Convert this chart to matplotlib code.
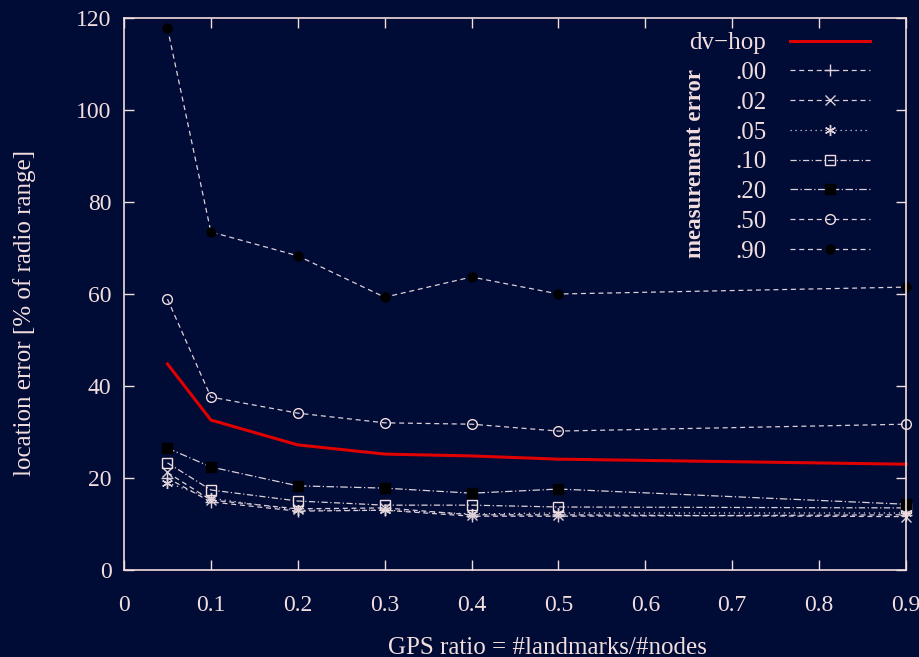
import numpy as np
import matplotlib.pyplot as plt

bg = '#000b36'
fg = '#f2dede'
lc = '#ddd0d8'

ratio = [0.05, 0.1, 0.2, 0.3, 0.4, 0.5, 0.9]
dvhop = [44.8, 32.6, 27.2, 25.2, 24.8, 24.1, 23.0]
err_00 = [20.0, 14.8, 12.8, 13.0, 11.7, 11.7, 12.0]
err_02 = [21.2, 15.2, 13.3, 13.5, 12.0, 12.0, 11.6]
err_05 = [19.0, 15.6, 13.0, 13.0, 12.2, 12.4, 12.4]
err_10 = [23.3, 17.4, 15.0, 14.1, 14.1, 13.7, 13.5]
err_20 = [26.5, 22.4, 18.3, 17.8, 16.7, 17.6, 14.3]
err_50 = [58.9, 37.6, 34.1, 32.0, 31.7, 30.2, 31.7]
err_90 = [117.8, 73.5, 68.3, 59.3, 63.7, 60.0, 61.5]

xticks = [0, 0.1, 0.2, 0.3, 0.4, 0.5, 0.6, 0.7, 0.8, 0.9]
xticklabels = ['0', '0.1', '0.2', '0.3', '0.4', '0.5', '0.6', '0.7', '0.8', '0.9']
yticks = [0, 20, 40, 60, 80, 100, 120]

plt.rcParams['font.family'] = ['Liberation Serif', 'DejaVu Serif']
plt.rcParams['font.size'] = 17

fig = plt.figure(figsize=(9.2, 6.57), dpi=100, facecolor=bg)
ax = fig.add_axes([0.1348, 0.1324, 0.85, 0.8402], facecolor=bg)

ax.plot(ratio, dvhop, color='#e00000', lw=2.2, label='dv\u2212hop')
ax.plot(ratio, err_00, color=lc, lw=0.9, ls=(0, (4, 3)), marker='+', ms=8, mew=1, label='.00')
ax.plot(ratio, err_02, color=lc, lw=0.9, ls=(0, (4, 3)), marker='x', ms=7, mew=1, label='.02')
ax.plot(ratio, err_05, color=lc, lw=0.9, ls=(0, (1, 3)), marker=(6, 2, 0), ms=8, mew=1, label='.05')
ax.plot(ratio, err_10, color=lc, lw=0.9, ls=(0, (5, 2, 1, 2)), marker='s', ms=7, mew=1,
        mfc='none', mec=fg, label='.10')
ax.plot(ratio, err_20, color=lc, lw=0.9, ls=(0, (6, 2, 1, 2)), marker='s', ms=7,
        mfc='black', mec='black', label='.20')
ax.plot(ratio, err_50, color=lc, lw=0.9, ls=(0, (4, 3)), marker='o', ms=7, mew=1,
        mfc='none', mec=fg, label='.50')
ax.plot(ratio, err_90, color=lc, lw=0.9, ls=(0, (4, 3)), marker='o', ms=6.5,
        mfc='black', mec='black', label='.90')
for ln in ax.get_lines():
    ln.set_clip_on(False)

ax.set_xlim(0, 0.9)
ax.set_ylim(0, 120)
ax.set_xticks(xticks)
ax.set_xticklabels(xticklabels)
ax.set_yticks(yticks)
ax.tick_params(direction='in', length=7, width=1, colors=fg, top=True, right=True)
ax.tick_params(axis='x', pad=18)
ax.tick_params(axis='y', pad=9)
for s in ax.spines.values():
    s.set_color(fg)
    s.set_linewidth(1.2)

ax.set_xlabel('GPS ratio = #landmarks/#nodes', color=fg, fontsize=18, labelpad=15)
ax.set_ylabel('location error [% of radio range]', color=fg, fontsize=18, labelpad=29)
ax.xaxis.label.set_x(0.541)
ax.yaxis.label.set_y(0.466)

leg = ax.legend(loc='upper right', bbox_to_anchor=(0.954, 0.975), frameon=False,
                markerfirst=False, handlelength=3.2, handletextpad=0.95, fontsize=18,
                labelspacing=0.29, borderpad=0, borderaxespad=0, numpoints=1)
for t in leg.get_texts():
    t.set_color(fg)

ax.text(0.731, 0.736, 'measurement error', transform=ax.transAxes, rotation=90,
        ha='center', va='center', color=fg, fontweight='bold', fontsize=16.5)

fig.savefig('out.png', dpi=100, facecolor=bg)
